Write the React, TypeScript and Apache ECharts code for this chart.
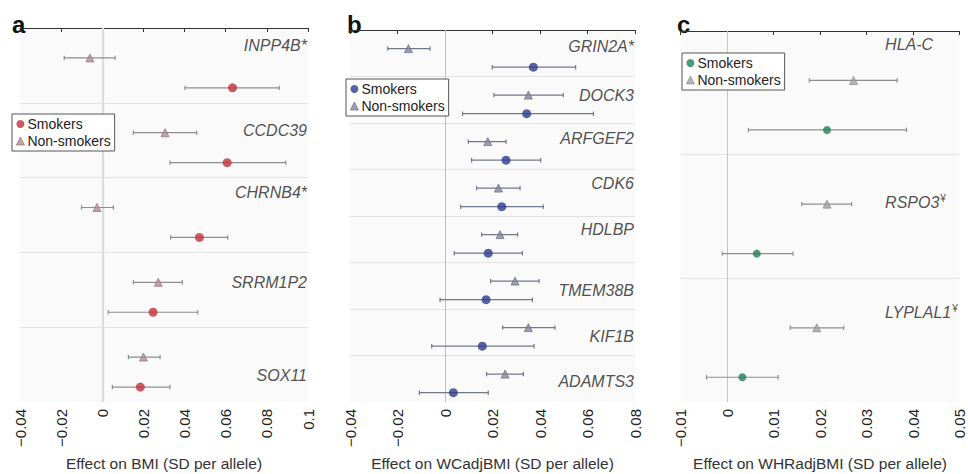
import React, { useEffect, useRef } from "react";
import * as echarts from "echarts";

// ---------- Panel a: BMI ----------
const aGenes = ["INPP4B*", "CCDC39", "CHRNB4*", "SRRM1P2", "SOX11"];
const aSmkBeta = [0.0633, 0.0607, 0.0472, 0.0247, 0.0185];
const aSmkLo = [0.0402, 0.0329, 0.0332, 0.0029, 0.0049];
const aSmkHi = [0.086, 0.0892, 0.061, 0.0464, 0.0329];
const aNonBeta = [-0.006, 0.0305, -0.0026, 0.0272, 0.02];
const aNonLo = [-0.0185, 0.0151, -0.0101, 0.0151, 0.0127];
const aNonHi = [0.0062, 0.0459, 0.0054, 0.0389, 0.0281];

// ---------- Panel b: WCadjBMI ----------
const bGenes = ["GRIN2A*", "DOCK3", "ARFGEF2", "CDK6", "HDLBP", "TMEM38B", "KIF1B", "ADAMTS3"];
const bSmkBeta = [0.0372, 0.0344, 0.0257, 0.0239, 0.0182, 0.0173, 0.0157, 0.0035];
const bSmkLo = [0.0199, 0.0074, 0.0112, 0.0066, 0.0039, -0.0021, -0.0056, -0.0108];
const bSmkHi = [0.055, 0.0625, 0.0403, 0.0414, 0.0326, 0.0368, 0.0375, 0.0182];
const bNonBeta = [-0.0154, 0.0351, 0.018, 0.0225, 0.0232, 0.0295, 0.0351, 0.0253];
const bNonLo = [-0.0241, 0.0206, 0.0098, 0.0133, 0.0154, 0.0192, 0.0243, 0.0175];
const bNonHi = [-0.0063, 0.0498, 0.0257, 0.0316, 0.0306, 0.0396, 0.0463, 0.033];

// ---------- Panel c: WHRadjBMI ----------
const cGenes = ["HLA-C", "RSPO3", "LYPLAL1"];
const cGeneSup = ["", "¥", "¥"];
const cSmkBeta = [0.0215, 0.0064, 0.0033];
const cSmkLo = [0.0046, -0.001, -0.0044];
const cSmkHi = [0.0386, 0.0142, 0.011];
const cNonBeta = [0.0272, 0.0215, 0.0193];
const cNonLo = [0.0177, 0.0161, 0.0136];
const cNonHi = [0.0366, 0.0268, 0.0251];

// axis ranges / titles
const axisTitles = [
  "Effect on BMI (SD per allele)",
  "Effect on WCadjBMI (SD per allele)",
  "Effect on WHRadjBMI (SD per allele)",
];
const xMins = [-0.04, -0.04, -0.01];
const xMaxs = [0.1, 0.08, 0.05];
const xSteps = [0.02, 0.02, 0.01];
const panelLetters = ["a", "b", "c"];

// ---------- layout (not data) ----------
const FONT = "'Liberation Sans', Arial, Helvetica, sans-serif";
const grids = [
  { left: 20, width: 288, top: 28, bottom: 72 },
  { left: 350, width: 285, top: 30, bottom: 72 },
  { left: 680.5, width: 279, top: 31, bottom: 72 },
];
// vertical offset of gene label inside its group (fraction of group height)
const labelOffsets = [
  [0.24, 0.37, 0.2, 0.4, 0.65],
  [0.36, 0.41, 0.33, 0.3, 0.3, 0.6, 0.6, 0.56],
  [0.11, 0.39, 0.28],
];
const cLabelX = 0.034;
const NON_ROW = 0.4;
const SMK_ROW = 0.8;
const styles = [
  { smk: "#c1313b", non: "#b08f96", nonBorder: "#8a6a70", bar: "#8e8e8e", zero: "#dcdcdc", zeroW: 2.2 },
  { smk: "#2c3b8c", non: "#858899", nonBorder: "#5f6278", bar: "#73778a", zero: "#bdbdbd", zeroW: 1 },
  { smk: "#1f7f57", non: "#a0a4a2", nonBorder: "#7d817f", bar: "#8f8f8f", zero: "#c4c4c4", zeroW: 1 },
];
const legendBoxes = [
  { left: 12, top: 114, itemGap: 3 },
  { left: 346, top: 79, itemGap: 3 },
  { left: 682, top: 53, itemGap: 3 },
];

const minus = (v: number) => {
  const s = String(+v.toFixed(4));
  return s.replace("-", "\u2212");
};

function errRender(color: string) {
  return (params: any, api: any) => {
    const y = api.value(0);
    const lo = api.coord([api.value(1), y]);
    const hi = api.coord([api.value(2), y]);
    const cap = 2.2;
    const st = { stroke: color, lineWidth: 1.2 };
    return {
      type: "group",
      children: [
        { type: "line", shape: { x1: lo[0], y1: lo[1], x2: hi[0], y2: hi[1] }, style: st },
        { type: "line", shape: { x1: lo[0], y1: lo[1] - cap, x2: lo[0], y2: lo[1] + cap }, style: st },
        { type: "line", shape: { x1: hi[0], y1: hi[1] - cap, x2: hi[0], y2: hi[1] + cap }, style: st },
      ],
    };
  };
}

export default function App() {
  const ref = useRef<HTMLDivElement>(null);
  useEffect(() => {
    if (!ref.current) return;
    const chart = echarts.init(ref.current, null, { renderer: "svg" });

    const panels = [
      { genes: aGenes, sup: aGenes.map(() => ""), sb: aSmkBeta, sl: aSmkLo, sh: aSmkHi, nb: aNonBeta, nl: aNonLo, nh: aNonHi },
      { genes: bGenes, sup: bGenes.map(() => ""), sb: bSmkBeta, sl: bSmkLo, sh: bSmkHi, nb: bNonBeta, nl: bNonLo, nh: bNonHi },
      { genes: cGenes, sup: cGeneSup, sb: cSmkBeta, sl: cSmkLo, sh: cSmkHi, nb: cNonBeta, nl: cNonLo, nh: cNonHi },
    ];

    const grid: any[] = [];
    const xAxis: any[] = [];
    const yAxis: any[] = [];
    const series: any[] = [];
    const legend: any[] = [];
    const graphic: any[] = [];

    panels.forEach((p, i) => {
      const n = p.genes.length;
      const st = styles[i];
      grid.push({
        ...grids[i],
        outerBoundsMode: "none",
        containLabel: false,
        show: true,
        backgroundColor: "#fafafa",
        borderWidth: 0,
      });
      xAxis.push({
        gridIndex: i,
        type: "value",
        min: xMins[i],
        max: xMaxs[i],
        interval: xSteps[i],
        splitLine: { show: false },
        axisLine: { show: true, lineStyle: { color: "#333", width: 1.2 } },
        axisTick: { show: true, length: 4, lineStyle: { color: "#333" } },
        axisLabel: {
          rotate: 90,
          fontSize: 15,
          color: "#222",
          fontFamily: FONT,
          margin: 7,
          formatter: (v: number) => minus(v),
        },
        name: axisTitles[i],
        nameLocation: "middle",
        nameGap: 53,
        nameTextStyle: { fontSize: 15.5, color: "#333", fontFamily: FONT },
      });
      yAxis.push({
        gridIndex: i,
        type: "value",
        min: 0,
        max: n,
        interval: 1,
        inverse: true,
        axisLine: { show: false },
        axisTick: { show: false },
        axisLabel: { show: false },
        splitLine: {
          show: true,
          showMinLine: false,
          showMaxLine: false,
          lineStyle: { color: "#e2e2e2", width: 1 },
        },
      });

      const nonErr = p.genes.map((_, g) => [g + NON_ROW, p.nl[g], p.nh[g]]);
      const smkErr = p.genes.map((_, g) => [g + SMK_ROW, p.sl[g], p.sh[g]]);

      // gene labels + zero line
      const isC = i === 2;
      series.push({
        type: "scatter",
        xAxisIndex: i,
        yAxisIndex: i,
        symbolSize: 0,
        silent: true,
        z: 1,
        data: p.genes.map((name, g) => ({
          value: [isC ? cLabelX : xMaxs[i], g + labelOffsets[i][g]],
          name,
        })),
        label: {
          show: true,
          position: isC ? "right" : "left",
          distance: isC ? 0 : 1,
          formatter: (prm: any) => {
            const s = p.sup[prm.dataIndex];
            return s ? `{n|${prm.name}}{s|${s}}` : `{n|${prm.name}}`;
          },
          rich: {
            n: { fontSize: 16, fontStyle: "italic", color: "#222", fontFamily: FONT, lineHeight: 18 },
            s: { fontSize: 10, color: "#222", fontFamily: FONT, lineHeight: 18, verticalAlign: "top", padding: [0, 0, 8, 1] },
          },
        },
        markLine: {
          silent: true,
          symbol: "none",
          label: { show: false },
          lineStyle: { color: st.zero, width: st.zeroW, type: "solid" },
          data: [{ xAxis: 0 }],
          z: 1,
        },
      });

      series.push({
        type: "custom",
        xAxisIndex: i,
        yAxisIndex: i,
        renderItem: errRender(st.bar),
        encode: { x: [1, 2], y: 0 },
        data: nonErr,
        z: 2,
        silent: true,
      });
      series.push({
        type: "custom",
        xAxisIndex: i,
        yAxisIndex: i,
        renderItem: errRender(st.bar),
        encode: { x: [1, 2], y: 0 },
        data: smkErr,
        z: 2,
        silent: true,
      });
      series.push({
        name: "Non-smokers",
        type: "scatter",
        xAxisIndex: i,
        yAxisIndex: i,
        symbol: "triangle",
        symbolSize: 8,
        z: 3,
        itemStyle: { color: st.non, borderColor: st.nonBorder, borderWidth: 0.8 },
        data: p.genes.map((_, g) => [p.nb[g], g + NON_ROW]),
      });
      series.push({
        name: "Smokers",
        type: "scatter",
        xAxisIndex: i,
        yAxisIndex: i,
        symbol: "circle",
        symbolSize: i === 2 ? 8 : 9,
        z: 3,
        itemStyle: { color: st.smk },
        data: p.genes.map((_, g) => [p.sb[g], g + SMK_ROW]),
      });

      legend.push({
        ...legendBoxes[i],
        orient: "vertical",
        selectedMode: false,
        backgroundColor: "#fff",
        borderColor: "#555",
        borderWidth: 1,
        borderRadius: 0,
        padding: [3, 4, 3, 4],
        itemWidth: 8,
        itemHeight: 8,
        textStyle: { fontSize: 14, color: "#222", fontFamily: FONT, padding: [0, 0, 0, -2] },
        data: [
          { name: "Smokers", icon: "circle", itemStyle: { color: st.smk, borderWidth: 0 } },
          { name: "Non-smokers", icon: "triangle", itemStyle: { color: st.non, borderColor: st.nonBorder, borderWidth: 0.8 } },
        ],
      });

      graphic.push({
        type: "text",
        left: [12, 347, 677][i],
        top: 12,
        style: { text: panelLetters[i], font: `bold 24px ${FONT}`, fill: "#111" },
      });
    });

    chart.setOption({
      animation: false,
      backgroundColor: "#fff",
      grid,
      xAxis,
      yAxis,
      series,
      legend,
      graphic,
    });
    return () => chart.dispose();
  }, []);

  return (
    <div
      ref={ref}
      style={{ position: "fixed", left: 0, top: 0, width: 968, height: 474 }}
    />
  );
}
